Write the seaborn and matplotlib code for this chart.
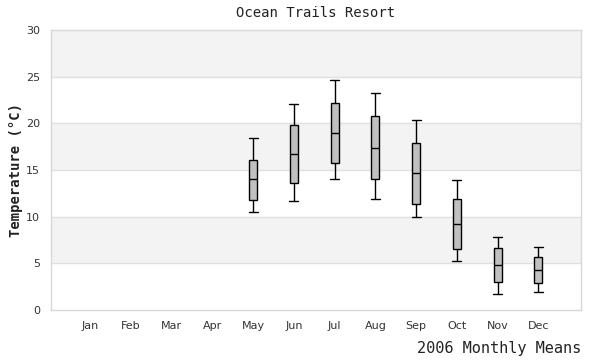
import numpy as np
import pandas as pd
import matplotlib
matplotlib.use("Agg")
import matplotlib.pyplot as plt
import seaborn as sns

months = ["Jan", "Feb", "Mar", "Apr", "May", "Jun", "Jul", "Aug", "Sep", "Oct", "Nov", "Dec"]

# five-number summaries (low whisker, q1, median, q3, high whisker)
data_months = ["May", "Jun", "Jul", "Aug", "Sep", "Oct", "Nov", "Dec"]
low = [10.5, 11.65, 14.0, 11.9, 10.0, 5.2, 1.7, 1.9]
q1 = [11.75, 13.6, 15.7, 14.0, 11.4, 6.5, 2.97, 2.85]
median = [14.0, 16.7, 19.0, 17.3, 14.65, 9.2, 4.8, 4.25]
q3 = [16.1, 19.8, 22.2, 20.75, 17.9, 11.85, 6.6, 5.65]
high = [18.4, 22.1, 24.6, 23.2, 20.4, 13.9, 7.8, 6.7]

rows = []
for i, m in enumerate(data_months):
    for v in (low[i], q1[i], median[i], q3[i], high[i]):
        rows.append({"month": m, "temp": v})
df = pd.DataFrame(rows)

sns.set_style("white")
fig = plt.figure(figsize=(6, 3.6), dpi=100)
ax = fig.add_axes([0.085, 0.139, 0.883, 0.778])

# alternating background bands
for lo in (5, 15, 25):
    ax.axhspan(lo, lo + 5, color="#f3f3f3", zorder=0, lw=0)
for y in range(5, 30, 5):
    ax.axhline(y, color="#e0e0e0", lw=1, zorder=0.5)

sns.boxplot(data=df, x="month", y="temp", order=months, whis=np.inf,
            width=0.2, color="#c0c0c0", linecolor="black", linewidth=1.0,
            ax=ax, zorder=3, capwidths=0.22,
            boxprops=dict(facecolor="#c0c0c0", edgecolor="black"),
            medianprops=dict(color="black"))

ax.set_ylim(0, 30)
ax.set_yticks(range(0, 31, 5))
ax.set_xlim(-0.96, 12.04)
for s in ax.spines.values():
    s.set_color("#d8d8d8")
    s.set_linewidth(1)
ax.tick_params(length=0, labelsize=8, colors="#333333", pad=8)

mono = "DejaVu Sans Mono"
ax.set_title("Ocean Trails Resort", family=mono, fontsize=10, color="#222222", pad=9)
ax.set_ylabel("Temperature (°C)", family=mono, fontsize=10, fontweight="bold",
              color="#222222", labelpad=2)
ax.set_xlabel("2006 Monthly Means", family=mono, fontsize=11, color="#222222",
              loc="right", labelpad=7)

fig.savefig("out.png", dpi=100)
